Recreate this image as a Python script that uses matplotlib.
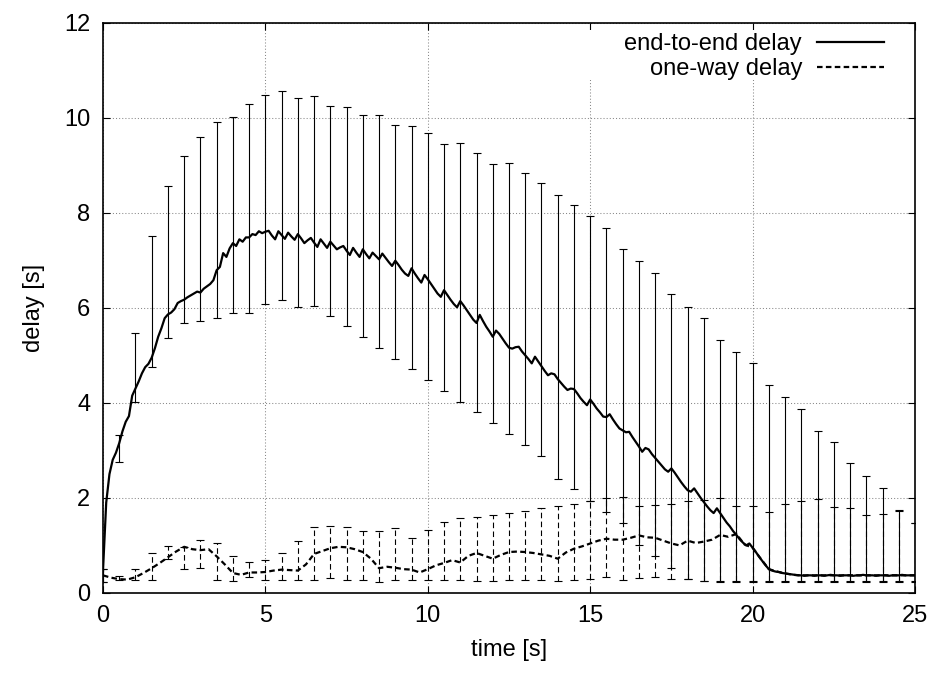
import numpy as np
import matplotlib
matplotlib.use("Agg")
import matplotlib.pyplot as plt
from matplotlib.patches import Rectangle

plt.rcParams['font.family'] = ['Liberation Sans', 'DejaVu Sans']
plt.rcParams['font.size'] = 17

# end-to-end delay, sampled every 0.1 s (one row per second)
e2e_delay = [
    0.45, 1.90, 2.50, 2.80, 2.95, 3.15, 3.40, 3.60, 3.72, 4.15,
    4.30, 4.45, 4.62, 4.75, 4.82, 4.95, 5.15, 5.39, 5.57, 5.78,
    5.86, 5.90, 5.97, 6.10, 6.14, 6.17, 6.22, 6.26, 6.30, 6.34,
    6.32, 6.40, 6.45, 6.50, 6.58, 6.79, 6.86, 7.15, 7.07, 7.25,
    7.36, 7.30, 7.44, 7.39, 7.48, 7.48, 7.55, 7.53, 7.61, 7.57,
    7.60, 7.62, 7.52, 7.44, 7.61, 7.53, 7.45, 7.58, 7.50, 7.43,
    7.55, 7.46, 7.36, 7.42, 7.47, 7.37, 7.28, 7.44, 7.35, 7.26,
    7.39, 7.31, 7.23, 7.27, 7.30, 7.20, 7.11, 7.26, 7.16, 7.07,
    7.23, 7.13, 7.04, 7.16, 7.09, 7.02, 7.14, 7.05, 6.96, 6.88,
    6.99, 6.90, 6.80, 6.72, 6.67, 6.83, 6.72, 6.62, 6.53, 6.69,
    6.60, 6.50, 6.40, 6.30, 6.23, 6.37, 6.27, 6.17, 6.08, 6.01,
    6.14, 6.05, 5.95, 5.85, 5.75, 5.68, 5.85, 5.72, 5.60, 5.50,
    5.39, 5.52, 5.45, 5.35, 5.25, 5.16, 5.14, 5.17, 5.18, 5.08,
    5.00, 4.92, 4.83, 4.97, 4.87, 4.77, 4.67, 4.58, 4.62, 4.60,
    4.50, 4.42, 4.34, 4.27, 4.30, 4.29, 4.20, 4.10, 4.02, 3.95,
    4.07, 3.98, 3.88, 3.80, 3.71, 3.70, 3.76, 3.65, 3.55, 3.46,
    3.42, 3.38, 3.39, 3.28, 3.18, 3.08, 2.97, 3.05, 3.02, 2.92,
    2.84, 2.76, 2.68, 2.60, 2.55, 2.62, 2.53, 2.43, 2.33, 2.24,
    2.16, 2.13, 2.20, 2.10, 2.00, 1.91, 1.82, 1.74, 1.68, 1.78,
    1.68, 1.58, 1.48, 1.40, 1.30, 1.22, 1.13, 1.06, 1.00, 1.04,
    0.95, 0.86, 0.76, 0.67, 0.58, 0.50, 0.47, 0.45, 0.44, 0.42,
    0.41, 0.40, 0.39, 0.38, 0.37, 0.37, 0.36, 0.37, 0.37, 0.36,
    0.37, 0.37, 0.36, 0.37, 0.38, 0.37, 0.37, 0.36, 0.37, 0.37,
    0.37, 0.36, 0.37, 0.37, 0.38, 0.37, 0.37, 0.37, 0.36, 0.37,
    0.37, 0.37, 0.36, 0.37, 0.37, 0.37, 0.38, 0.37, 0.37, 0.37,
    0.37,
]
t_e2e = np.arange(len(e2e_delay)) * 0.1

# one-way delay, sampled every 0.25 s (one row per 2.5 s)
oneway_delay = [
    0.37, 0.32, 0.29, 0.28, 0.33, 0.42, 0.52, 0.63, 0.75, 0.87,
    0.97, 0.92, 0.90, 0.92, 0.77, 0.60, 0.42, 0.38, 0.43, 0.43,
    0.44, 0.47, 0.49, 0.48, 0.47, 0.60, 0.82, 0.88, 0.94, 0.97,
    0.96, 0.92, 0.86, 0.72, 0.52, 0.55, 0.53, 0.50, 0.49, 0.43,
    0.50, 0.58, 0.63, 0.69, 0.64, 0.78, 0.84, 0.78, 0.72, 0.80,
    0.86, 0.87, 0.86, 0.84, 0.81, 0.78, 0.72, 0.85, 0.93, 0.98,
    1.04, 1.10, 1.14, 1.12, 1.12, 1.16, 1.21, 1.17, 1.16, 1.10,
    1.04, 1.00, 1.10, 1.05, 1.08, 1.12, 1.22, 1.18, 1.24, 1.02,
    0.95, 0.72, 0.50, 0.45, 0.41, 0.38, 0.37, 0.37, 0.37, 0.37,
    0.37, 0.37, 0.37, 0.37, 0.37, 0.37, 0.37, 0.37, 0.37, 0.37,
    0.37,
]
t_oneway = np.arange(len(oneway_delay)) * 0.25

# error bars every 0.5 s (min / max)
e2e_high = [
    0.51, 3.33, 5.46, 7.52, 8.56, 9.20, 9.59, 9.90, 10.02, 10.28,
    10.48, 10.57, 10.42, 10.46, 10.25, 10.23, 10.05, 10.06, 9.84, 9.82,
    9.67, 9.44, 9.46, 9.25, 9.03, 9.04, 8.83, 8.62, 8.37, 8.16,
    7.93, 7.67, 7.23, 6.98, 6.74, 6.29, 6.02, 5.79, 5.33, 5.07,
    4.83, 4.37, 4.13, 3.87, 3.41, 3.17, 2.74, 2.46, 2.20, 1.74,
    1.47,
]
e2e_low = [
    0.23, 2.76, 4.01, 4.76, 5.36, 5.68, 5.73, 5.78, 5.90, 5.88,
    6.07, 6.16, 6.02, 6.04, 5.83, 5.61, 5.39, 5.16, 4.93, 4.71,
    4.48, 4.25, 4.02, 3.80, 3.57, 3.34, 3.11, 2.88, 2.39, 2.18,
    1.93, 1.71, 1.47, 1.00, 0.77, 0.53, 0.29, 0.25, 0.24, 0.24,
    0.24, 0.24, 0.24, 0.24, 0.24, 0.24, 0.24, 0.24, 0.24, 0.24,
    0.24,
]
oneway_high = [
    0.51, 0.36, 0.51, 0.83, 0.98, 0.97, 1.11, 1.04, 0.77, 0.65,
    0.70, 0.85, 1.10, 1.39, 1.41, 1.38, 1.30, 1.31, 1.36, 1.15,
    1.33, 1.50, 1.57, 1.60, 1.64, 1.68, 1.73, 1.78, 1.83, 1.87,
    1.93, 1.99, 2.01, 1.83, 1.85, 1.88, 1.94, 1.95, 2.00, 1.83,
    1.83, 1.71, 1.87, 1.93, 1.97, 1.81, 1.79, 1.64, 1.67, 1.72,
    1.47,
]
oneway_low = [
    0.23, 0.28, 0.28, 0.27, 0.72, 0.51, 0.53, 0.28, 0.25, 0.34,
    0.27, 0.27, 0.27, 0.27, 0.32, 0.27, 0.27, 0.23, 0.27, 0.28,
    0.27, 0.27, 0.27, 0.25, 0.25, 0.27, 0.27, 0.27, 0.26, 0.27,
    0.30, 0.34, 0.28, 0.32, 0.34, 0.30, 0.29, 0.26, 0.26, 0.26,
    0.26, 0.26, 0.26, 0.26, 0.26, 0.26, 0.26, 0.26, 0.26, 0.26,
    0.26,
]
t_bars = np.arange(len(e2e_high)) * 0.5

fig = plt.figure(figsize=(9.36, 6.73), dpi=100)
ax = fig.add_axes([0.110, 0.119, 0.8676, 0.8474])

# error bars (drawn from low up to high)
e2e_low = np.array(e2e_low)
oneway_low = np.array(oneway_low)
eb1 = ax.errorbar(t_bars, e2e_low, yerr=[np.zeros_like(e2e_low), np.array(e2e_high) - e2e_low],
                  fmt='none', ecolor='black', elinewidth=0.8, capsize=2.9, capthick=0.8, zorder=2)
eb2 = ax.errorbar(t_bars, oneway_low, yerr=[np.zeros_like(oneway_low), np.array(oneway_high) - oneway_low],
                  fmt='none', ecolor='black', elinewidth=0.8, capsize=2.9, capthick=0.8, zorder=2)
eb2[2][0].set_linestyle((0, (5, 3)))

ax.plot(t_oneway, oneway_delay, color='black', lw=1.6, linestyle=(0, (2.5, 1.5)),
        label='one-way delay', zorder=3)
ax.plot(t_e2e, e2e_delay, color='black', lw=1.6, label='end-to-end delay', zorder=4)

ax.set_xlim(0, 25)
ax.set_ylim(0, 12)
ax.set_xticks([0, 5, 10, 15, 20, 25])
ax.set_yticks([0, 2, 4, 6, 8, 10, 12])
ax.grid(True, color='#888888', lw=0.75, linestyle=(0, (1, 2)))
ax.tick_params(direction='in', top=True, right=True, length=5, width=0.8, pad=9)
for sp in ax.spines.values():
    sp.set_linewidth(1.2)

ax.set_xlabel('time [s]', labelpad=8)
ax.set_ylabel('delay [s]', labelpad=14)

# white area behind the key, like gnuplot blanks the grid there
ax.add_patch(Rectangle((0.587, 0.899), 0.411, 0.088, transform=ax.transAxes,
                       facecolor='white', edgecolor='none', zorder=1.6))

handles, labels = ax.get_legend_handles_labels()
ax.legend(handles[::-1], labels[::-1], loc='upper right', bbox_to_anchor=(0.967, 0.99),
          frameon=False, markerfirst=False, handlelength=2.8, handletextpad=0.65,
          labelspacing=0.12, borderpad=0.2, borderaxespad=0)

fig.savefig('out.png', dpi=100)
